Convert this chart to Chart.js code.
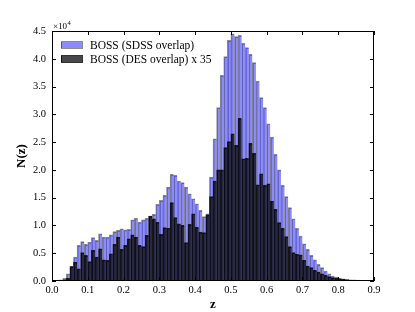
<!DOCTYPE html>
<html><head><meta charset="utf-8">
<script src="https://cdn.jsdelivr.net/npm/chart.js@4/dist/chart.umd.min.js"></script>
<style>html,body{margin:0;padding:0;background:#fff;overflow:hidden;}</style>
</head><body>
<canvas id="c" width="415" height="312"></canvas>
<script>
// Bin centres of the redshift histogram (bin width 0.01)
const binCenters = [
0.005,0.015,0.025,0.035,0.045,0.055,0.065,0.075,0.085,0.095,
0.105,0.115,0.125,0.135,0.145,0.155,0.165,0.175,0.185,0.195,
0.205,0.215,0.225,0.235,0.245,0.255,0.265,0.275,0.285,0.295,
0.305,0.315,0.325,0.335,0.345,0.355,0.365,0.375,0.385,0.395,
0.405,0.415,0.425,0.435,0.445,0.455,0.465,0.475,0.485,0.495,
0.505,0.515,0.525,0.535,0.545,0.555,0.565,0.575,0.585,0.595,
0.605,0.615,0.625,0.635,0.645,0.655,0.665,0.675,0.685,0.695,
0.705,0.715,0.725,0.735,0.745,0.755,0.765,0.775,0.785,0.795,
0.805,0.815,0.825,0.835,0.845,0.855,0.865,0.875,0.885,0.895];

const sdssCounts = [
0,50,200,500,1300,2700,4300,6400,7100,6600,
7000,7800,7300,8500,7900,7900,8300,8900,9100,9400,
9200,9300,11000,11300,10600,11000,11300,11700,12000,13800,
14500,15400,16900,19200,19000,18000,17700,16900,15700,14800,
13900,12700,11600,12100,18700,25600,31200,37000,40400,43300,
44500,44000,44200,42800,42000,40800,39300,36000,33000,31200,
28300,25900,22800,20000,17200,15200,13200,11200,9500,8100,
6700,5700,4600,3800,3000,2400,1800,1300,900,700,
500,400,300,200,200,150,100,100,50,50];

const desCountsX35 = [
0,30,100,200,500,2600,3400,2200,5100,4600,
3500,5500,4300,5800,3800,3700,4900,6600,7900,5700,
6400,7600,8300,7900,6400,6200,8200,11700,11200,10600,
8400,9600,9500,14100,11400,10300,10000,6900,10200,12100,
9700,8800,8700,11900,15200,18000,20000,20000,24000,25100,
26500,24400,29300,22000,22100,24800,23000,17300,19300,17200,
17500,14400,12900,10500,9500,8000,6200,5100,4800,4700,
3700,2700,2400,1900,1600,1300,1000,800,600,500,
400,300,200,150,100,100,50,50,30,20];

const seriesLabels = ['BOSS (SDSS overlap)', 'BOSS (DES overlap) x 35'];
const xTickValues = [0,0.1,0.2,0.3,0.4,0.5,0.6,0.7,0.8,0.9];
const xTickLabels = ['0.0','0.1','0.2','0.3','0.4','0.5','0.6','0.7','0.8','0.9'];
const yTickValues = [0,5000,10000,15000,20000,25000,30000,35000,40000,45000];
const yTickLabels = ['0.0','0.5','1.0','1.5','2.0','2.5','3.0','3.5','4.0','4.5'];

const FONT = "'Liberation Serif', 'DejaVu Serif', serif";
const blueFill = 'rgba(0,0,255,0.45)';
const blueEdge = 'rgba(0,0,0,0.45)';
const darkFill = 'rgba(0,0,0,0.72)';
const darkEdge = 'rgba(0,0,0,0.8)';

const framePlugin = {
  id: 'frame',
  afterDraw(chart) {
    const ctx = chart.ctx, a = chart.chartArea;
    const xs = chart.scales.x, ys = chart.scales.y;
    ctx.save();
    ctx.strokeStyle = '#000';
    ctx.lineWidth = 1;
    ctx.strokeRect(a.left + 0.5, a.top + 0.5, a.right - a.left - 1, a.bottom - a.top - 1);
    const L = 4;
    ctx.beginPath();
    xTickValues.forEach(v => {
      const px = Math.round(xs.getPixelForValue(v)) + 0.5;
      ctx.moveTo(px, a.bottom); ctx.lineTo(px, a.bottom - L);
      ctx.moveTo(px, a.top); ctx.lineTo(px, a.top + L);
    });
    yTickValues.forEach(v => {
      const py = Math.round(ys.getPixelForValue(v)) + 0.5;
      ctx.moveTo(a.left, py); ctx.lineTo(a.left + L, py);
      ctx.moveTo(a.right, py); ctx.lineTo(a.right - L, py);
    });
    ctx.stroke();
    // multiplier label
    ctx.fillStyle = '#000';
    ctx.textBaseline = 'alphabetic';
    ctx.textAlign = 'left';
    ctx.font = '9px ' + FONT;
    ctx.fillText('\u00d710', a.left + 1, a.top - 2);
    const w = ctx.measureText('\u00d710').width;
    ctx.font = '6.5px ' + FONT;
    ctx.fillText('4', a.left + 1 + w + 0.5, a.top - 6);
    // legend
    const items = [
      {label: seriesLabels[0], fill: blueFill, edge: blueEdge},
      {label: seriesLabels[1], fill: darkFill, edge: darkEdge}
    ];
    ctx.font = '11.5px ' + FONT;
    ctx.textBaseline = 'middle';
    items.forEach((it, i) => {
      const cy = a.top + 14 + i * 14;
      ctx.fillStyle = it.fill;
      ctx.fillRect(a.left + 9, cy - 3, 21, 6);
      ctx.strokeStyle = it.edge;
      ctx.strokeRect(a.left + 9.5, cy - 3.5, 21, 7);
      ctx.fillStyle = '#000';
      ctx.fillText(it.label, a.left + 38, cy + 0.5);
    });
    ctx.restore();
  }
};

new Chart(document.getElementById('c'), {
  type: 'bar',
  data: {
    datasets: [
      {
        label: seriesLabels[0],
        data: binCenters.map((x, i) => ({x: x, y: sdssCounts[i]})),
        backgroundColor: blueFill,
        borderColor: blueEdge,
        borderWidth: {top: 1, left: 1, right: 0, bottom: 0},
        borderSkipped: false,
        grouped: false,
        barPercentage: 1,
        categoryPercentage: 1,
        order: 1
      },
      {
        label: seriesLabels[1],
        data: binCenters.map((x, i) => ({x: x, y: desCountsX35[i]})),
        backgroundColor: darkFill,
        borderColor: darkEdge,
        borderWidth: {top: 1, left: 1, right: 0, bottom: 0},
        borderSkipped: false,
        grouped: false,
        barPercentage: 1,
        categoryPercentage: 1,
        order: 0
      }
    ]
  },
  options: {
    responsive: false,
    devicePixelRatio: 1,
    animation: false,
    layout: {padding: {top: 31, right: 41, left: 0, bottom: 0}},
    plugins: {legend: {display: false}, tooltip: {enabled: false}},
    scales: {
      x: {
        type: 'linear', min: 0, max: 0.9, offset: false,
        grid: {display: false, drawTicks: false},
        border: {display: false},
        afterBuildTicks(s) { s.ticks = xTickValues.map(v => ({value: v})); },
        ticks: {
          autoSkip: false, maxRotation: 0, padding: 3, color: '#000',
          font: {family: FONT, size: 10.5},
          callback: (v, i) => xTickLabels[i]
        },
        title: {display: true, text: 'z', color: '#000', padding: {top: 0, bottom: 0},
                font: {family: FONT, size: 13, weight: 'bold'}},
        afterFit(s) { s.height = 31; }
      },
      y: {
        type: 'linear', min: 0, max: 45000,
        grid: {display: false, drawTicks: false},
        border: {display: false},
        afterBuildTicks(s) { s.ticks = yTickValues.map(v => ({value: v})); },
        ticks: {
          autoSkip: false, padding: 6, color: '#000',
          font: {family: FONT, size: 10.5},
          callback: (v, i) => yTickLabels[i]
        },
        title: {display: true, text: 'N(z)', color: '#000', padding: {top: 14, bottom: 0},
                font: {family: FONT, size: 13, weight: 'bold'}},
        afterFit(s) { s.width = 52; }
      }
    }
  },
  plugins: [framePlugin]
});
</script>
</body></html>
